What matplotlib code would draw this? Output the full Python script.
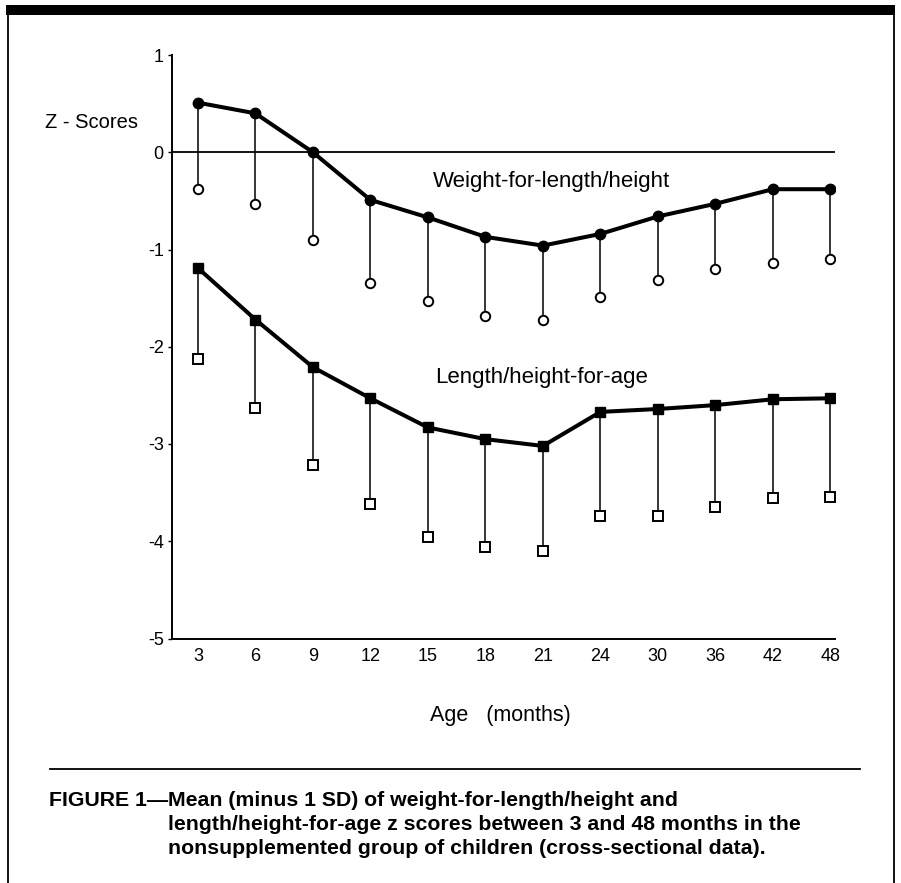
import numpy as np
import matplotlib.pyplot as plt
from matplotlib.lines import Line2D
from matplotlib.patches import Rectangle

plt.rcParams['font.family'] = ['Liberation Sans', 'DejaVu Sans']

ages = ['3', '6', '9', '12', '15', '18', '21', '24', '30', '36', '42', '48']
wfl_mean = [0.51, 0.40, 0.00, -0.49, -0.67, -0.87, -0.96, -0.84, -0.66, -0.53, -0.38, -0.38]
wfl_low = [-0.38, -0.53, -0.90, -1.34, -1.53, -1.68, -1.72, -1.49, -1.31, -1.20, -1.14, -1.10]
hfa_mean = [-1.19, -1.72, -2.21, -2.53, -2.83, -2.95, -3.02, -2.67, -2.64, -2.60, -2.54, -2.53]
hfa_low = [-2.13, -2.63, -3.22, -3.62, -3.96, -4.06, -4.10, -3.74, -3.74, -3.65, -3.56, -3.55]
yticks = [-5, -4, -3, -2, -1, 0, 1]

W, H = 901, 883
fig = plt.figure(figsize=(W / 100, H / 100), dpi=100)

def fx(px):
    return px / W

def fy(py):
    return 1 - py / H

ax = fig.add_axes([fx(172), fy(638.5), fx(835) - fx(172), fy(55) - fy(638.5)])
x = np.arange(len(ages))

# stems from mean down to mean - 1 SD
ax.vlines(x, wfl_low, wfl_mean, color='black', lw=1.1, zorder=2)
ax.vlines(x, hfa_low, hfa_mean, color='black', lw=1.1, zorder=2)

ax.plot(x, wfl_mean, color='black', lw=2.9, marker='o', ms=7.5, zorder=4)
ax.plot(x, hfa_mean, color='black', lw=2.9, marker='s', ms=7.2, zorder=4)
ax.plot(x, wfl_low, ls='none', marker='o', ms=6.8, mfc='white', mec='black', mew=1.4, zorder=3)
ax.plot(x, hfa_low, ls='none', marker='s', ms=6.8, mfc='white', mec='black', mew=1.4, zorder=3)

ax.axhline(0, color='black', lw=1.3, zorder=1)

ax.set_xlim(-0.45, 11.08)
ax.set_ylim(-5, 1)
ax.set_xticks(x)
ax.set_xticklabels(ages)
ax.set_yticks(yticks)
ax.set_yticklabels([str(v) for v in yticks])
ax.tick_params(axis='x', length=0, pad=7, labelsize=13)
ax.tick_params(axis='y', length=3, width=1, pad=3, labelsize=13)
for s in ['top', 'right']:
    ax.spines[s].set_visible(False)
for s in ['left', 'bottom']:
    ax.spines[s].set_linewidth(1.4)

ax.text(4.09, -0.30, 'Weight-for-length/height', fontsize=16, va='center', ha='left')
ax.text(4.12, -2.32, 'Length/height-for-age', fontsize=16, va='center', ha='left')

fig.text(fx(45), fy(122), 'Z - Scores', fontsize=14.5, va='center', ha='left')
fig.text(fx(500), fy(715), 'Age   (months)', fontsize=15.5, va='center', ha='center')

# page frame
fig.add_artist(Rectangle((fx(6), fy(15)), fx(895) - fx(6), fy(5) - fy(15),
                         transform=fig.transFigure, color='black', lw=0))
fig.add_artist(Line2D([fx(8), fx(8)], [fy(15), 0], transform=fig.transFigure, color='black', lw=1.3))
fig.add_artist(Line2D([fx(894), fx(894)], [fy(15), 0], transform=fig.transFigure, color='black', lw=1.3))
fig.add_artist(Line2D([fx(50), fx(860)], [fy(769), fy(769)], transform=fig.transFigure, color='black', lw=1.3))

cap = dict(fontsize=15.3, fontweight='bold', va='center')
fig.text(fx(168), fy(800), 'FIGURE 1\u2014', ha='right', **cap)
fig.text(fx(168), fy(800), 'Mean (minus 1 SD) of weight-for-length/height and', ha='left', **cap)
fig.text(fx(168), fy(824), 'length/height-for-age z scores between 3 and 48 months in the', ha='left', **cap)
fig.text(fx(168), fy(848), 'nonsupplemented group of children (cross-sectional data).', ha='left', **cap)

fig.savefig('out.png', dpi=100)
